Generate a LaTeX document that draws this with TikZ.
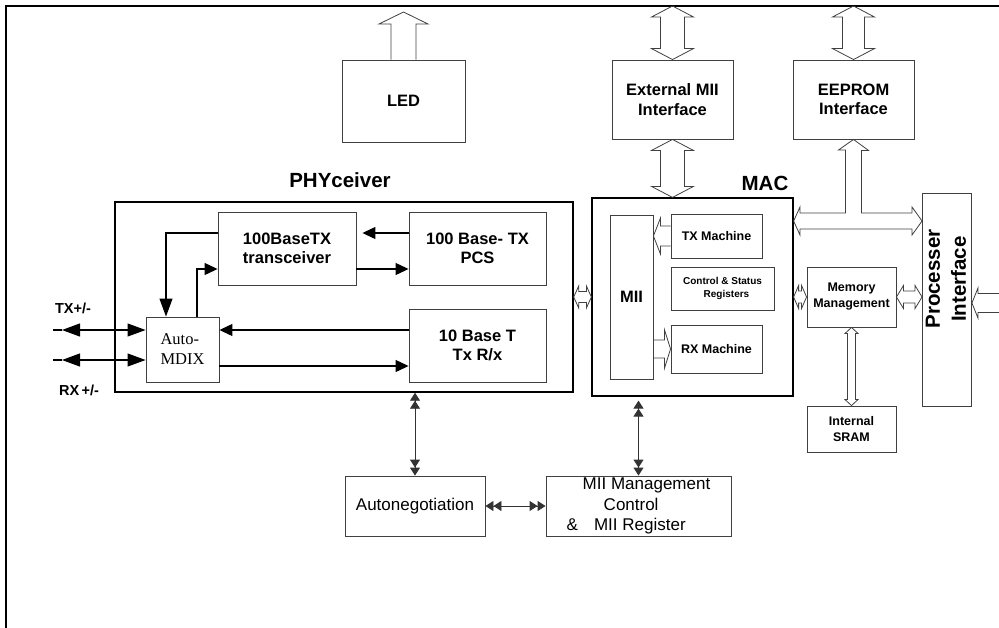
\documentclass[tikz,border=0pt]{standalone}
\usepackage{fontspec}
\setmainfont{Liberation Sans}
\newfontfamily\mdixfont{Liberation Serif}
\usetikzlibrary{arrows.meta, calc}
\tikzset{
  blk/.style={rectangle, draw=black!75, line width=0.9pt, inner sep=0pt, align=center,
              font=\bfseries\fontsize{16.5}{19.5}\selectfont},
  smallblk/.style={blk, font=\bfseries\fontsize{12.5}{16}\selectfont},
  plainblk/.style={blk, font=\fontsize{17}{20.5}\selectfont},
  grp/.style={rectangle, draw=black, line width=1.4pt, inner sep=0pt},
  grplbl/.style={inner sep=0pt, font=\bfseries\fontsize{20.5}{26}\selectfont},
  pinlbl/.style={inner sep=0pt, font=\bfseries\fontsize{14.5}{17}\selectfont},
  blockarr/.style={draw=black!75, line width=0.8pt, line join=miter},
  wire/.style={line width=1.1pt, black},
  arr/.style={wire, -{Triangle[length=13pt, width=12pt]}},
  bigarr/.style={wire, -{Triangle[length=18pt, width=13pt]}},
  bigdbl/.style={wire, {Triangle[length=18pt, width=13pt]}-{Triangle[length=18pt, width=13pt]}},
  dblarr/.style={line width=0.9pt, black!80,
    {Triangle[length=8pt, width=10pt] Triangle[length=8pt, width=10pt]}-{Triangle[length=8pt, width=10pt] Triangle[length=8pt, width=10pt]}},
}
% hollow block arrow with two heads: from, to, shaft half width, head half width, head length
\newcommand{\hollowdbl}[5]{%
  \path (#1) coordinate (ha) (#2) coordinate (hb);
  \path ($(ha)!#5!(hb)$) coordinate (ha1) ($(hb)!#5!(ha)$) coordinate (hb1);
  \draw[blockarr] (ha) -- ($(ha1)!#4!90:(hb)$) -- ($(ha1)!#3!90:(hb)$)
    -- ($(hb1)!#3!-90:(ha)$) -- ($(hb1)!#4!-90:(ha)$) -- (hb)
    -- ($(hb1)!#4!90:(ha)$) -- ($(hb1)!#3!90:(ha)$)
    -- ($(ha1)!#3!-90:(hb)$) -- ($(ha1)!#4!-90:(hb)$) -- cycle;
}
% hollow block arrow with one head at the second point
\newcommand{\hollowone}[5]{%
  \path (#1) coordinate (ha) (#2) coordinate (hb);
  \path ($(hb)!#5!(ha)$) coordinate (hb1);
  \draw[blockarr] ($(ha)!#3!90:(hb)$) -- ($(hb1)!#3!-90:(ha)$) -- ($(hb1)!#4!-90:(ha)$)
    -- (hb) -- ($(hb1)!#4!90:(ha)$) -- ($(hb1)!#3!90:(ha)$) -- ($(ha)!#3!-90:(hb)$);
}

\begin{document}
\begin{tikzpicture}[x=1pt, y=-1pt]
  \useasboundingbox (0,0) rectangle (999,627);
  \clip (0,0) rectangle (999,627);
  \draw[line width=2pt] (1010,6) -- (6,6) -- (6,640);

  % top row
  \node[blk, minimum width=123pt, minimum height=82pt] (led) at (403.5,101) {LED};
  \node[blk, minimum width=121pt, minimum height=79pt] (extmii) at (672.5,99.5) {External MII\\Interface};
  \node[blk, minimum width=121pt, minimum height=79pt] (eeprom) at (853.5,99.5) {EEPROM\\Interface};

  % PHYceiver
  \node[grp, minimum width=458pt, minimum height=190pt] (phy) at (344,297) {};
  \node[grplbl] (phylbl) at (340,180) {PHYceiver};
  \node[blk, minimum width=138pt, minimum height=73pt] (xcvr) at (287,248.5) {100BaseTX\\transceiver};
  \node[blk, minimum width=137pt, minimum height=73pt] (pcs) at (477.5,248.5) {100 Base- TX\\PCS};
  \node[blk, minimum width=137pt, minimum height=73pt] (tbt) at (477.5,345.5) {10 Base T\\Tx R/x};
  \node[blk, align=left, minimum width=73pt, minimum height=65pt,
        font=\mdixfont\fontsize{16.5}{20}\selectfont] (mdix) at (182.5,349.5) {Auto-\\MDIX};

  % MAC
  \node[grp, line width=1.2pt, minimum width=201pt, minimum height=198pt] (mac) at (692.5,297) {};
  \node[grplbl] (maclbl) at (765,183) {MAC};
  \node[blk, minimum width=43pt, minimum height=164pt] (mii) at (631.5,297) {MII};
  \node[smallblk, minimum width=91pt, minimum height=44pt] (txm) at (716.5,236) {TX Machine};
  \node[blk, minimum width=103pt, minimum height=43pt,
        font=\bfseries\fontsize{10}{13}\selectfont] (csr) at (722.5,288.5) {Control \& Status\\\hspace*{8pt}Registers};
  \node[smallblk, minimum width=91pt, minimum height=48pt] (rxm) at (716.5,349) {RX Machine};

  % memory and processor side
  \node[smallblk, minimum width=89pt, minimum height=60pt] (memmg) at (851.5,297) {Memory\\Management};
  \node[smallblk, minimum width=89pt, minimum height=46pt] (sram) at (851.5,429) {Internal\\SRAM};
  \node[rectangle, draw=black!75, line width=0.9pt, minimum width=49pt, minimum height=213pt] (proc) at (947,299.5) {};
  \node[grplbl, rotate=90, align=center] (proclbl) at (946,279) {Processer\\Interface};

  % bottom row
  \node[plainblk, minimum width=140pt, minimum height=60pt] (autoneg) at (415,506) {Autonegotiation};
  \node[plainblk, align=left, minimum width=185pt, minimum height=60pt] (miimg) at (638.5,506)
    {\hspace*{16pt}MII Management\\\hspace*{37pt}Control\\\&\hspace{16pt}MII Register};

  % block arrows
  \coordinate (ledout) at (403.5,12);
  \coordinate (extmiitop) at (672.5,6);
  \coordinate (eepromtop) at (853.5,6);
  \coordinate (procin) at (1010,303);
  \hollowone{led.north}{ledout}{12.5pt}{24.5pt}{12pt}
  \hollowdbl{extmiitop}{extmii.north}{12pt}{21pt}{11pt}
  \hollowdbl{extmii.south}{mac.north -| extmii.south}{12pt}{21pt}{11pt}
  \hollowdbl{eepromtop}{eeprom.north}{11pt}{21pt}{11pt}
  \hollowdbl{phy.east}{mac.west}{5.5pt}{11pt}{5pt}
  \hollowdbl{mac.east}{memmg.west}{6pt}{11.5pt}{5pt}
  \hollowdbl{memmg.east}{memmg.east -| proc.west}{6pt}{11.5pt}{7pt}
  \hollowdbl{memmg.south}{sram.north}{4pt}{6.5pt}{6pt}
  \hollowone{txm.west}{txm.west -| mii.east}{10pt}{18pt}{7pt}
  \hollowone{rxm.west -| mii.east}{rxm.west}{9pt}{19pt}{6pt}
  \hollowone{procin}{procin -| proc.east}{9.5pt}{15pt}{6pt}
  % bus from the EEPROM interface
  \coordinate (tee) at (853.5,221);
  \draw[blockarr] (eeprom.south) -- ++(15,11) -- ++(-7,0) -- (861.5,213) -- (912,213) -- ++(0,-6)
    -- (proc.west |- tee) -- (912,235) -- (912,229) -- (800,229) -- (800,235)
    -- (mac.east |- tee) -- (800,207) -- (800,213) -- (845.5,213) -- (845.5,150)
    -- (838.5,150) -- cycle;

  % PHY wiring
  \coordinate (pcsout) at ([yshift=15.5pt]pcs.west);
  \draw[arr, shorten >=6pt] (pcsout) -- (pcsout -| xcvr.east);
  \coordinate (xcvrout) at ([yshift=-20.5pt]xcvr.east);
  \draw[arr] (xcvrout) -- (xcvrout -| pcs.west);
  \coordinate (xcvrrx) at ([yshift=15.5pt]xcvr.west);
  \coordinate (mdixrx) at ([xshift=-16.5pt]mdix.north);
  \draw[bigarr] (xcvrrx) -| (mdixrx);
  \coordinate (mdixtx) at ([xshift=14.5pt]mdix.north);
  \coordinate (xcvrin) at ([yshift=-20.5pt]xcvr.west);
  \draw[arr] (mdixtx) |- (xcvrin);
  \coordinate (tbtout) at ([yshift=15.5pt]tbt.west);
  \draw[arr] (tbtout) -- (tbtout -| mdix.east);
  \coordinate (mdixout) at ([yshift=-16.5pt]mdix.east);
  \draw[arr] (mdixout) -- (mdixout -| tbt.west);

  % line pins
  \coordinate (txtip) at (62,330);
  \coordinate (rxtip) at (62,360);
  \draw[wire] (txtip) -- ++(-9,0);
  \draw[bigdbl] (txtip) -- (txtip -| mdix.west);
  \draw[wire] (rxtip) -- ++(-9,0);
  \draw[bigdbl] (rxtip) -- (rxtip -| mdix.west);
  \node[pinlbl] (txlbl) at (73,308) {TX+/-};
  \node[pinlbl] (rxlbl) at (79,390) {RX\,+/-};

  % management paths
  \draw[dblarr] (phy.south -| autoneg.north) -- (autoneg.north);
  \draw[dblarr, shorten <=4pt] (mac.south -| miimg.north) -- (miimg.north);
  \draw[dblarr] (autoneg.east) -- (miimg.west);
\end{tikzpicture}
\end{document}
